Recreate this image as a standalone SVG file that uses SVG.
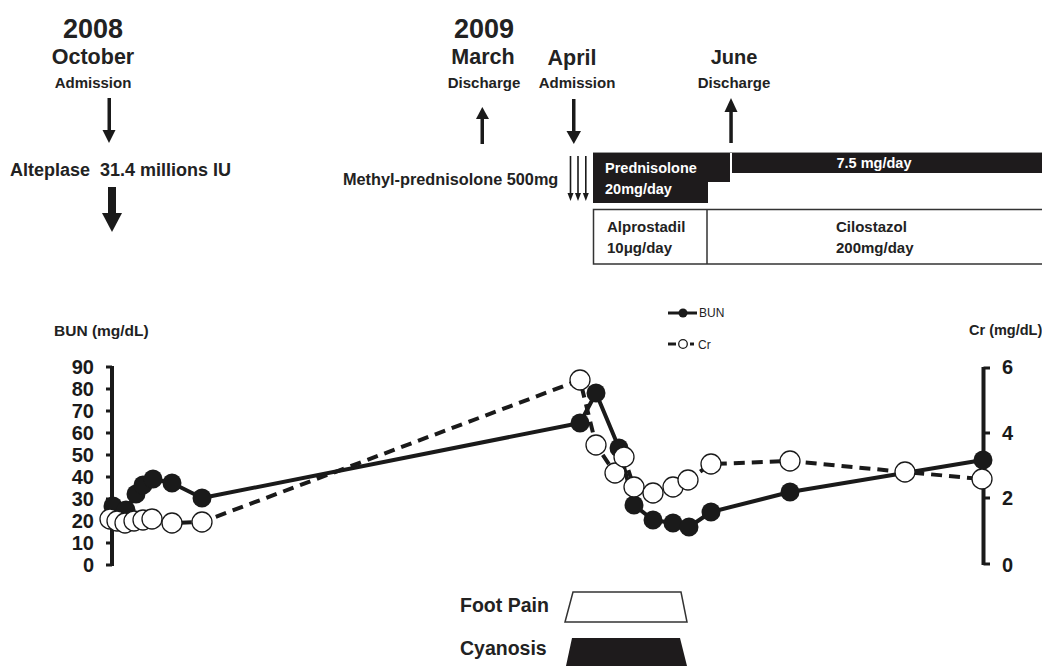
<svg xmlns="http://www.w3.org/2000/svg" width="1042" height="666" viewBox="0 0 1042 666">
<defs>
<style>
.t{font-family:"Liberation Sans",Arial,sans-serif;font-weight:bold;fill:#222}
.w{fill:#fff}
.ax{stroke:#1a1a1a;stroke-width:4;fill:none}
.tk{stroke:#1a1a1a;stroke-width:3;fill:none}
.bun{stroke:#1a1a1a;stroke-width:4;fill:none;stroke-linejoin:round}
.cr{stroke:#1a1a1a;stroke-width:4;fill:none;stroke-dasharray:11 7}
.fc{fill:#1a1a1a}
.oc{fill:#fff;stroke:#1a1a1a;stroke-width:1.3}
.ar{fill:#1a1a1a}
.num{font-family:"Liberation Sans",Arial,sans-serif;font-weight:bold;font-size:20px;fill:#1a1a1a}
</style>
</defs>
<rect width="1042" height="666" fill="#fff"/>

<g id="label-2008">
<text class="t" x="93" y="38" font-size="27" text-anchor="middle">2008</text>
<text class="t" x="93" y="64" font-size="21.5" text-anchor="middle">October</text>
<text class="t" x="93" y="88" font-size="15" text-anchor="middle">Admission</text>
</g>
<g id="label-alteplase">
<text class="t" x="10" y="176" font-size="18" style="white-space:pre">Alteplase  31.4 millions IU</text>
</g>
<g id="label-2009">
<text class="t" x="484" y="38" font-size="27" text-anchor="middle">2009</text>
<text class="t" x="483" y="64" font-size="21.5" text-anchor="middle">March</text>
<text class="t" x="484" y="88" font-size="15" text-anchor="middle">Discharge</text>
</g>
<g id="label-april">
<text class="t" x="572" y="65" font-size="21.5" text-anchor="middle">April</text>
<text class="t" x="577" y="88" font-size="15" text-anchor="middle">Admission</text>
</g>
<g id="label-june">
<text class="t" x="734" y="64" font-size="20" text-anchor="middle">June</text>
<text class="t" x="734" y="88" font-size="15" text-anchor="middle">Discharge</text>
</g>
<g id="label-methyl">
<text class="t" x="343" y="185" font-size="16.3">Methyl-prednisolone 500mg</text>
</g>

<g id="prednisolone">
<line x1="593" y1="152.5" x2="1042" y2="152.5" stroke="#999" stroke-width="1"/>
<rect x="593" y="153" width="115" height="50" fill="#1e1b1c"/>
<rect x="707" y="153" width="23" height="29" fill="#1e1b1c"/>
<rect x="732" y="153" width="310" height="20" fill="#1e1b1c"/>
<text class="t w" x="605" y="173" font-size="14.5">Prednisolone</text>
<text class="t w" x="605" y="194" font-size="14.5">20mg/day</text>
<text class="t w" x="874" y="168" font-size="14.5" text-anchor="middle">7.5 mg/day</text>
</g>
<g id="alprostadil-cilostazol">
<path d="M1042,209.5 H593.5 V264 H1042 M707,209.5 V264" fill="none" stroke="#333" stroke-width="1.5"/>
<text class="t" x="607" y="232" font-size="15">Alprostadil</text>
<text class="t" x="607" y="253" font-size="15">10μg/day</text>
<text class="t" x="836" y="232" font-size="15">Cilostazol</text>
<text class="t" x="836" y="253" font-size="15">200mg/day</text>
</g>

<g id="arrows">
<rect class="ar" x="107.5" y="98" width="3.5" height="33"/>
<polygon class="ar" points="102.5,130 115.5,130 109,143"/>
<rect class="ar" x="108" y="187" width="8" height="27"/>
<polygon class="ar" points="102,213 122,213 112,232"/>
<rect class="ar" x="480.5" y="117" width="3.5" height="27"/>
<polygon class="ar" points="476,119 489,119 482.3,107"/>
<rect class="ar" x="572" y="99" width="3.5" height="33"/>
<polygon class="ar" points="566.5,131 581,131 573.8,144"/>
<rect class="ar" x="729.3" y="110" width="3.5" height="33"/>
<polygon class="ar" points="724.5,112 737.5,112 731,98"/>
<rect class="ar" x="569.7" y="156" width="1.6" height="38"/>
<polygon class="ar" points="567.5,193 573.5,193 570.5,201"/>
<rect class="ar" x="577.2" y="156" width="1.6" height="38"/>
<polygon class="ar" points="575,193 581,193 578,201"/>
<rect class="ar" x="585" y="156" width="1.6" height="38"/>
<polygon class="ar" points="582.8,193 588.8,193 585.8,201"/>
</g>

<g id="axis-left">
<text class="t" x="54" y="336" font-size="15.5">BUN (mg/dL)</text>
<line class="ax" x1="112" y1="366" x2="112" y2="566"/>
<path class="tk" d="M106,367H112M106,389H112M106,411H112M106,433H112M106,455H112M106,477H112M106,499H112M106,521H112M106,543H112M106,565H112"/>
<g class="num" text-anchor="end">
<text x="94" y="374">90</text>
<text x="94" y="396">80</text>
<text x="94" y="418">70</text>
<text x="94" y="440">60</text>
<text x="94" y="462">50</text>
<text x="94" y="484">40</text>
<text x="94" y="506">30</text>
<text x="94" y="528">20</text>
<text x="94" y="550">10</text>
<text x="94" y="572">0</text>
</g>
</g>
<g id="axis-right">
<text class="t" x="969" y="335" font-size="14.5">Cr (mg/dL)</text>
<line class="ax" x1="983.5" y1="367" x2="983.5" y2="565"/>
<path class="tk" d="M983.5,368H990M983.5,433H990M983.5,498H990M983.5,564H990"/>
<g class="num">
<text x="1002" y="374">6</text>
<text x="1002" y="440">4</text>
<text x="1002" y="505">2</text>
<text x="1002" y="572">0</text>
</g>
</g>

<g id="legend">
<line x1="668" y1="313" x2="697" y2="313" stroke="#1a1a1a" stroke-width="3"/>
<circle cx="683" cy="313" r="4.5" class="fc"/>
<text x="699" y="317" font-family="'Liberation Sans',Arial,sans-serif" font-size="12" fill="#222">BUN</text>
<line x1="668" y1="344" x2="676" y2="344" stroke="#1a1a1a" stroke-width="3"/>
<circle cx="683" cy="344" r="4.3" class="oc"/>
<line x1="690" y1="344" x2="694" y2="344" stroke="#1a1a1a" stroke-width="3"/>
<text x="698" y="349" font-family="'Liberation Sans',Arial,sans-serif" font-size="12" fill="#222">Cr</text>
</g>

<g id="connectors">
<polyline class="bun" points="113,506 126,510 136,494 143,485 153,479 172,483 202,498 580,423 596,393 619,448 634,505 653,520 673,523 689,527 711,512 790,492 983,460"/>
<polyline class="cr" points="110,519 117,521 125,523 134,521 143,520 152,519 172,523 202,522 580,380 596,445 615,473 624,457 634,487 653,493 673,487 688,480 711,464 790,461 905,472 982,479"/>
</g>

<g id="bun-points" class="fc">
<circle cx="113" cy="506" r="9.5"/><circle cx="126" cy="510" r="9.5"/><circle cx="136" cy="494" r="9.5"/>
<circle cx="143" cy="485" r="9.5"/><circle cx="153" cy="479" r="9.5"/><circle cx="172" cy="483" r="9.5"/>
<circle cx="202" cy="498" r="9.5"/><circle cx="580" cy="423" r="9.5"/><circle cx="596" cy="393" r="9.5"/>
<circle cx="619" cy="448" r="9.5"/><circle cx="634" cy="505" r="9.5"/><circle cx="653" cy="520" r="9.5"/>
<circle cx="673" cy="523" r="9.5"/><circle cx="689" cy="527" r="9.5"/><circle cx="711" cy="512" r="9.5"/>
<circle cx="790" cy="492" r="9.5"/><circle cx="983" cy="460" r="9.5"/>
</g>
<g id="cr-points" class="oc">
<circle cx="110" cy="519" r="10"/><circle cx="117" cy="521" r="10"/><circle cx="125" cy="523" r="10"/>
<circle cx="134" cy="521" r="10"/><circle cx="143" cy="520" r="10"/><circle cx="152" cy="519" r="10"/>
<circle cx="172" cy="523" r="10"/><circle cx="202" cy="522" r="10"/><circle cx="580" cy="380" r="10"/>
<circle cx="596" cy="445" r="10"/><circle cx="615" cy="473" r="10"/><circle cx="624" cy="457" r="10"/>
<circle cx="634" cy="487" r="10"/><circle cx="653" cy="493" r="10"/><circle cx="673" cy="487" r="10"/>
<circle cx="688" cy="480" r="10"/><circle cx="711" cy="464" r="10"/><circle cx="790" cy="461" r="10"/>
<circle cx="905" cy="472" r="10"/><circle cx="982" cy="479" r="10"/>
</g>

<g id="foot-pain">
<text class="t" x="460" y="612" font-size="19.5">Foot Pain</text>
<polygon points="573,592 681,592 687,622 565,622" fill="#fff" stroke="#333" stroke-width="1.5"/>
</g>
<g id="cyanosis">
<text class="t" x="460" y="655" font-size="19.5">Cyanosis</text>
<polygon points="572,638 680,638 687,666 566,666" fill="#1e1b1c"/>
</g>
</svg>
